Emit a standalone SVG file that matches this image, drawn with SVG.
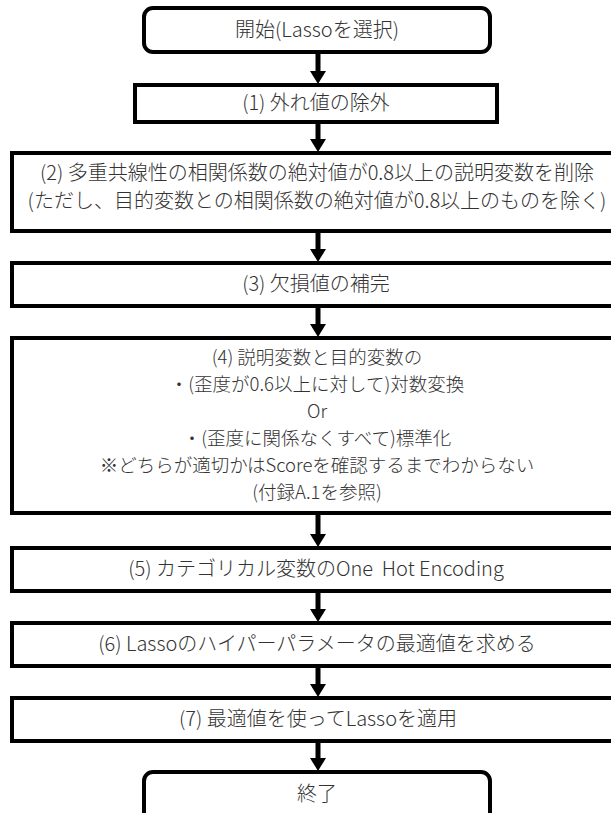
<svg xmlns="http://www.w3.org/2000/svg" width="611" height="813" viewBox="0 0 611 813">
<style>
.box{fill:#fff;stroke:#000;stroke-width:4}
.t{font-family:"Noto Sans CJK JP","Noto Sans",sans-serif;font-size:20px;font-weight:300;fill:#333;text-anchor:middle}
.s{font-size:18.5px}
.c{stroke:#000;stroke-width:5;fill:none;marker-end:url(#ah)}
</style>
<defs>
<marker id="ah" markerUnits="userSpaceOnUse" markerWidth="13" markerHeight="16" refX="1" refY="8" orient="auto">
<path d="M0,0 L13,8 L0,16 Z" fill="#000"/>
</marker>
</defs>
<rect width="611" height="813" fill="#fff"/>
<g id="connectors">
<line class="c" x1="318" y1="53" x2="318" y2="72"/>
<line class="c" x1="318" y1="123" x2="318" y2="140"/>
<line class="c" x1="318" y1="232" x2="318" y2="250"/>
<line class="c" x1="318" y1="307" x2="318" y2="325"/>
<line class="c" x1="318" y1="514" x2="318" y2="535"/>
<line class="c" x1="318" y1="592" x2="318" y2="610"/>
<line class="c" x1="318" y1="667" x2="318" y2="685"/>
<line class="c" x1="318" y1="742" x2="318" y2="759"/>
</g>
<g id="start">
<rect class="box" x="144" y="8" width="346" height="44" rx="9"/>
<text class="t" x="317" y="37">開始(Lassoを選択)</text>
</g>
<g id="step1">
<rect class="box" x="135" y="85" width="362" height="37"/>
<text class="t" x="316" y="110">(1) 外れ値の除外</text>
</g>
<g id="step2">
<rect class="box" x="12" y="153" width="620" height="78"/>
<text class="t" x="317" y="180">(2) 多重共線性の相関係数の絶対値が0.8以上の説明変数を削除</text>
<text class="t" x="317" y="208">(ただし、目的変数との相関係数の絶対値が0.8以上のものを除く)</text>
</g>
<g id="step3">
<rect class="box" x="12" y="263" width="620" height="43"/>
<text class="t" x="316" y="291">(3) 欠損値の補完</text>
</g>
<g id="step4">
<rect class="box" x="12" y="338" width="620" height="175"/>
<text class="t s" x="317" y="364">(4) 説明変数と目的変数の</text>
<text class="t s" x="317" y="391">・(歪度が0.6以上に対して)対数変換</text>
<text class="t s" x="317" y="418">Or</text>
<text class="t s" x="317" y="445">・(歪度に関係なくすべて)標準化</text>
<text class="t s" x="317" y="472">※どちらが適切かはScoreを確認するまでわからない</text>
<text class="t s" x="317" y="499">(付録A.1を参照)</text>
</g>
<g id="step5">
<rect class="box" x="12" y="548" width="620" height="43"/>
<text class="t" x="316" y="576">(5) カテゴリカル変数のOne&#160; Hot Encoding</text>
</g>
<g id="step6">
<rect class="box" x="12" y="623" width="620" height="43"/>
<text class="t" x="317" y="651">(6) Lassoのハイパーパラメータの最適値を求める</text>
</g>
<g id="step7">
<rect class="box" x="12" y="698" width="620" height="43"/>
<text class="t" x="318" y="726">(7) 最適値を使ってLassoを適用</text>
</g>
<g id="end">
<rect class="box" x="144" y="772" width="346" height="60" rx="9"/>
<text class="t" x="317" y="801">終了</text>
</g>
</svg>
